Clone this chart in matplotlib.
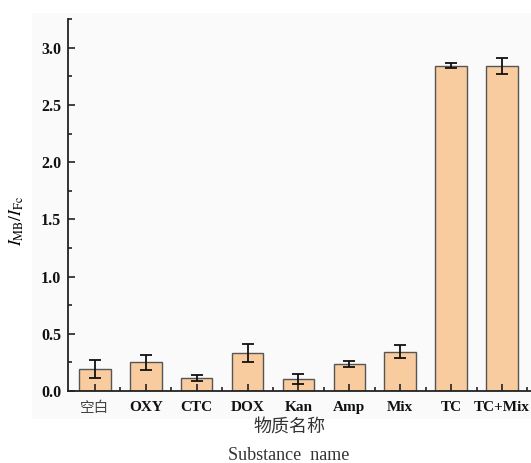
import matplotlib
matplotlib.use("Agg")
import matplotlib.pyplot as plt
from matplotlib.patches import Rectangle
from matplotlib.ticker import MultipleLocator

# data
names = ["空白", "OXY", "CTC", "DOX", "Kan", "Amp", "Mix", "TC", "TC+Mix"]
ratio = [0.19, 0.25, 0.117, 0.33, 0.108, 0.234, 0.344, 2.842, 2.842]
err = [0.077, 0.067, 0.026, 0.079, 0.045, 0.027, 0.055, 0.022, 0.07]

plt.rcParams["mathtext.fontset"] = "stix"
plt.rcParams["font.family"] = ["Liberation Serif", "DejaVu Serif"]

fig = plt.figure(figsize=(5.31, 4.63), dpi=100)
# light grey panel behind the plot
fig.patches.append(Rectangle((32 / 531, 1 - 419 / 463), (531 - 32) / 531,
                             (419 - 13) / 463, transform=fig.transFigure,
                             facecolor="#fafafa", edgecolor="none", zorder=-5))

ax = fig.add_axes([68 / 531, 1 - 391 / 463, (531 - 68) / 531, (391 - 19.3) / 463])
ax.set_zorder(5)
ax.patch.set_alpha(0)

x = list(range(len(names)))
ax.bar(x, ratio, width=0.62, color="#f8cc9e", edgecolor="#555555", linewidth=1.0,
       yerr=err, capsize=4, error_kw=dict(ecolor="#111111", elinewidth=1.3, capthick=1.3))

ax.set_xlim(-0.53, 8.57)
ax.set_ylim(0, 3.25)
ax.yaxis.set_major_locator(MultipleLocator(0.5))
ax.yaxis.set_minor_locator(MultipleLocator(0.25))
ax.set_xticks(x)
ax.set_xticks([i + 0.5 for i in x], minor=True)
ax.set_xticklabels(names)
ax.set_yticklabels(["%.1f" % v for v in ax.get_yticks()])

for sp in ["top", "right"]:
    ax.spines[sp].set_visible(False)
for sp in ["left", "bottom"]:
    ax.spines[sp].set_linewidth(1.3)
    ax.spines[sp].set_color("#222222")

ax.tick_params(axis="both", which="major", direction="in", length=5, width=1.2, color="#222222")
ax.tick_params(axis="both", which="minor", direction="in", length=3, width=1.2, color="#222222")
ax.tick_params(axis="x", pad=7)
ax.tick_params(axis="y", pad=5)

for lab in ax.get_xticklabels():
    lab.set_fontsize(11)
    lab.set_fontweight("bold")
    lab.set_color("#111111")
for lab in ax.get_yticklabels():
    lab.set_fontsize(11.5)
    lab.set_fontweight("bold")
    lab.set_color("#111111")
ax.get_xticklabels()[0].set_family(["Noto Sans CJK SC", "DejaVu Sans"])
ax.get_xticklabels()[0].set_fontweight("normal")
ax.get_xticklabels()[0].set_color("#444444")
ax.get_xticklabels()[0].set_fontsize(10.5)

ax.set_ylabel(r"$I_{\rm MB}/I_{\rm Fc}$", fontsize=12.5)
ax.yaxis.set_label_coords(-0.09, 0.457)

fig.text(289 / 531, 1 - 428 / 463, "物质名称", ha="center", va="center", fontsize=13,
         family=["Noto Sans CJK SC", "DejaVu Sans"], color="#333333")
fig.text(289 / 531, 1 - 455 / 463, "Substance  name", ha="center", va="center",
         fontsize=13, color="#333333")

fig.savefig("out.png", dpi=100)
